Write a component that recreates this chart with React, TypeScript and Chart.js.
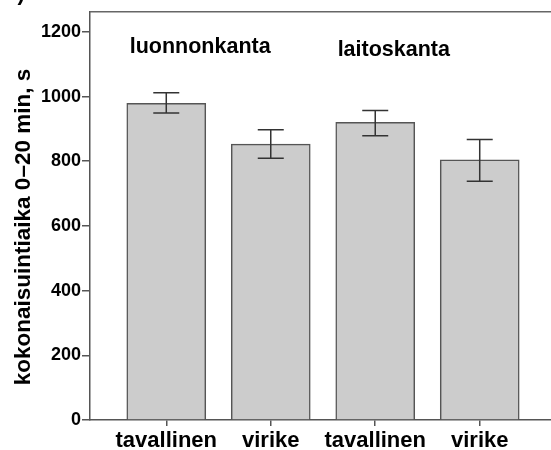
import React, { useEffect, useRef } from "react";
import { Chart, registerables } from "chart.js";

Chart.register(...registerables);

const CATEGORIES = ["tavallinen", "virike", "tavallinen", "virike"];
const MEANS = [979, 853, 920, 804];
const ERR_HIGH = [1012, 897, 957, 867];
const ERR_LOW = [949, 809, 879, 738];
const Y_TICKS = [0, 200, 400, 600, 800, 1000, 1200];
const GROUP_LABELS = ["luonnonkanta", "laitoskanta"];
const GROUP_LABEL_X = [-0.35, 1.64];
const GROUP_LABEL_Y = [1154, 1145];
const Y_TITLE = "kokonaisuintiaika 0–20 min, s";
const PANEL_LABEL = "b)";

const FONT = "'Liberation Sans', Arial, sans-serif";

const customPlugin = {
  id: "custom",
  afterDatasetsDraw(chart: any) {
    const { ctx, scales } = chart;
    const xs = scales.x;
    const ys = scales.y;
    ctx.save();
    ctx.strokeStyle = "#333";
    ctx.lineWidth = 1.5;
    for (let i = 0; i < MEANS.length; i++) {
      const x = xs.getPixelForValue(i);
      const yh = ys.getPixelForValue(ERR_HIGH[i]);
      const yl = ys.getPixelForValue(ERR_LOW[i]);
      ctx.beginPath();
      ctx.moveTo(x, yh);
      ctx.lineTo(x, yl);
      ctx.moveTo(x - 13, yh);
      ctx.lineTo(x + 13, yh);
      ctx.moveTo(x - 13, yl);
      ctx.lineTo(x + 13, yl);
      ctx.stroke();
    }
    ctx.restore();
  },
  afterDraw(chart: any) {
    const { ctx, scales, chartArea } = chart;
    const xs = scales.x;
    const ys = scales.y;
    ctx.save();
    ctx.strokeStyle = "#666";
    ctx.lineWidth = 1.5;
    ctx.beginPath();
    ctx.moveTo(chartArea.left, chartArea.top);
    ctx.lineTo(chartArea.right, chartArea.top);
    ctx.lineTo(chartArea.right, chartArea.bottom);
    ctx.stroke();
    ctx.fillStyle = "#000";
    ctx.font = `bold 21.5px ${FONT}`;
    ctx.textAlign = "left";
    ctx.textBaseline = "middle";
    for (let i = 0; i < GROUP_LABELS.length; i++) {
      ctx.fillText(
        GROUP_LABELS[i],
        xs.getPixelForValue(GROUP_LABEL_X[i]),
        ys.getPixelForValue(GROUP_LABEL_Y[i])
      );
    }
    ctx.save();
    ctx.translate(24, 227);
    ctx.rotate(-Math.PI / 2);
    ctx.font = `bold 22.5px ${FONT}`;
    ctx.textAlign = "center";
    ctx.textBaseline = "middle";
    ctx.fillText(Y_TITLE, 0, 0);
    ctx.restore();
    ctx.font = `bold 22px ${FONT}`;
    ctx.textAlign = "left";
    ctx.textBaseline = "alphabetic";
    ctx.fillText(PANEL_LABEL, 4, 0);
    ctx.restore();
  },
};

export default function App() {
  const ref = useRef<HTMLCanvasElement | null>(null);

  useEffect(() => {
    if (!ref.current) return;
    const chart = new Chart(ref.current, {
      type: "bar",
      data: {
        datasets: [
          {
            data: MEANS.map((v, i) => ({ x: i, y: v })) as any,
            backgroundColor: "#cccccc",
            borderColor: "#555555",
            borderWidth: 1.5,
            barThickness: 79,
          },
        ],
      },
      options: {
        animation: false,
        responsive: false,
        maintainAspectRatio: false,
        layout: { padding: { left: 0, right: 14, top: 10, bottom: 0 } },
        plugins: {
          legend: { display: false },
          tooltip: { enabled: false },
        },
        scales: {
          x: {
            type: "linear",
            offset: false,
            min: -0.73,
            max: 3.73,
            afterBuildTicks: (s: any) => {
              s.ticks = CATEGORIES.map((_, i) => ({ value: i }));
            },
            afterFit: (s: any) => {
              s.height = 30;
            },
            grid: {
              display: true,
              offset: false,
              drawOnChartArea: false,
              drawTicks: true,
              tickLength: 6,
              color: "#555",
              lineWidth: 1.5,
            },
            border: { display: true, color: "#555", width: 1.5 },
            ticks: {
              color: "#000",
              padding: 2,
              maxRotation: 0,
              autoSkip: false,
              font: { family: FONT, size: 22, weight: "bold" },
              callback: (_v: any, i: number) => CATEGORIES[i],
            },
          },
          y: {
            min: 0,
            max: 1262,
            afterBuildTicks: (s: any) => {
              s.ticks = Y_TICKS.map((v) => ({ value: v }));
            },
            afterFit: (s: any) => {
              s.width = 90;
            },
            grid: {
              display: true,
              drawOnChartArea: false,
              drawTicks: true,
              tickLength: 8,
              color: "#555",
              lineWidth: 1.5,
            },
            border: { display: true, color: "#555", width: 1.5 },
            ticks: {
              color: "#000",
              padding: 1,
              font: { family: FONT, size: 18, weight: "bold" },
              callback: (v: any) => String(v),
            },
          },
        },
      },
      plugins: [customPlugin],
    });
    return () => chart.destroy();
  }, []);

  return (
    <div
      style={{
        position: "fixed",
        left: 0,
        top: 0,
        width: 551,
        height: 450,
        overflow: "hidden",
        background: "#fff",
      }}
    >
      <canvas ref={ref} width={570} height={450} style={{ width: 570, height: 450, display: "block" }} />
    </div>
  );
}
